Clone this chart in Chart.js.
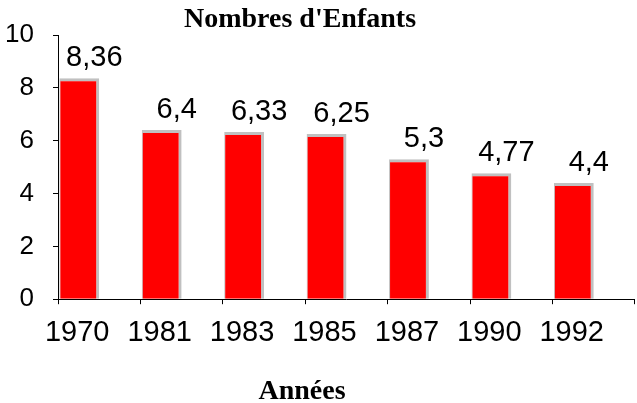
<!DOCTYPE html>
<html lang="fr">

<head>
    <meta charset="UTF-8">
    <title>Nombres d'Enfants</title>
    <style>
        body {
            margin: 0;
            padding: 0;
            background: #fff;
        }

        .chart-container {
            width: 637px;
            height: 403px;
        }
    </style>
</head>

<body>
    <div class="chart-container">
        <canvas id="enfantsChart" width="637" height="403"></canvas>
    </div>

    <script src="https://cdn.jsdelivr.net/npm/chart.js"></script>
    <script>
        const annees = ["1970", "1981", "1983", "1985", "1987", "1990", "1992"];
        const enfants = [8.36, 6.4, 6.33, 6.25, 5.3, 4.77, 4.4];
        const yTicks = [0, 2, 4, 6, 8, 10];
        const titre = "Nombres d'Enfants";
        const titreAxe = "Années";

        // value labels above the bars, French decimal comma
        const valueLabels = {
            id: "valueLabels",
            afterDatasetsDraw(chart) {
                const ctx = chart.ctx;
                const meta = chart.getDatasetMeta(0);
                ctx.save();
                ctx.font = "29px 'Liberation Sans', Arial, sans-serif";
                ctx.fillStyle = "#000";
                ctx.textAlign = "center";
                ctx.textBaseline = "alphabetic";
                meta.data.forEach((bar, i) => {
                    const txt = String(enfants[i]).replace(".", ",");
                    ctx.fillText(txt, bar.x + 15, bar.y - 12);
                });
                ctx.restore();
            }
        };

        // both titles sit a bit left of the canvas centre in the original
        const titles = {
            id: "titles",
            afterDraw(chart) {
                const ctx = chart.ctx;
                ctx.save();
                ctx.font = "bold 28px 'Liberation Serif', 'Times New Roman', serif";
                ctx.fillStyle = "#000";
                ctx.textAlign = "center";
                ctx.textBaseline = "alphabetic";
                ctx.fillText(titre, 300, 27);
                ctx.fillText(titreAxe, 302, 399);
                ctx.restore();
            }
        };

        const ctx = document.getElementById("enfantsChart").getContext("2d");
        new Chart(ctx, {
            type: "bar",
            data: {
                labels: annees,
                datasets: [{
                    label: titre,
                    data: enfants,
                    backgroundColor: "#ff0000",
                    borderColor: "#c0c0c0",
                    borderWidth: { top: 3, right: 3, bottom: 0, left: 1 },
                    borderSkipped: false,
                    categoryPercentage: 0.967,
                    barPercentage: 1
                },
                {
                    // empty second series: keeps the bars on the left half of each category
                    label: "",
                    data: [],
                    categoryPercentage: 0.967,
                    barPercentage: 1
                }]
            },
            options: {
                responsive: false,
                animation: false,
                layout: {
                    padding: { top: 35, right: 0, bottom: 42, left: 5 }
                },
                plugins: {
                    legend: { display: false },
                    title: { display: false },
                    tooltip: { enabled: false }
                },
                scales: {
                    x: {
                        offset: true,
                        grid: {
                            offset: true,
                            drawOnChartArea: false,
                            tickLength: 5,
                            color: "#000"
                        },
                        border: { color: "#000", width: 1 },
                        ticks: {
                            color: "#000",
                            padding: 11,
                            labelOffset: -22,
                            maxRotation: 0,
                            font: { family: "'Liberation Sans', Arial, sans-serif", size: 29 }
                        }
                    },
                    y: {
                        min: 0,
                        max: 10,
                        afterBuildTicks: (scale) => {
                            scale.ticks = yTicks.map((v) => ({ value: v }));
                        },
                        afterFit: (scale) => {
                            scale.width = 53;
                        },
                        grid: {
                            drawOnChartArea: false,
                            tickLength: 5,
                            color: "#000"
                        },
                        border: { color: "#000", width: 1 },
                        ticks: {
                            color: "#000",
                            padding: 19,
                            font: { family: "'Liberation Sans', Arial, sans-serif", size: 26 }
                        }
                    }
                }
            },
            plugins: [valueLabels, titles]
        });
    </script>
</body>

</html>
